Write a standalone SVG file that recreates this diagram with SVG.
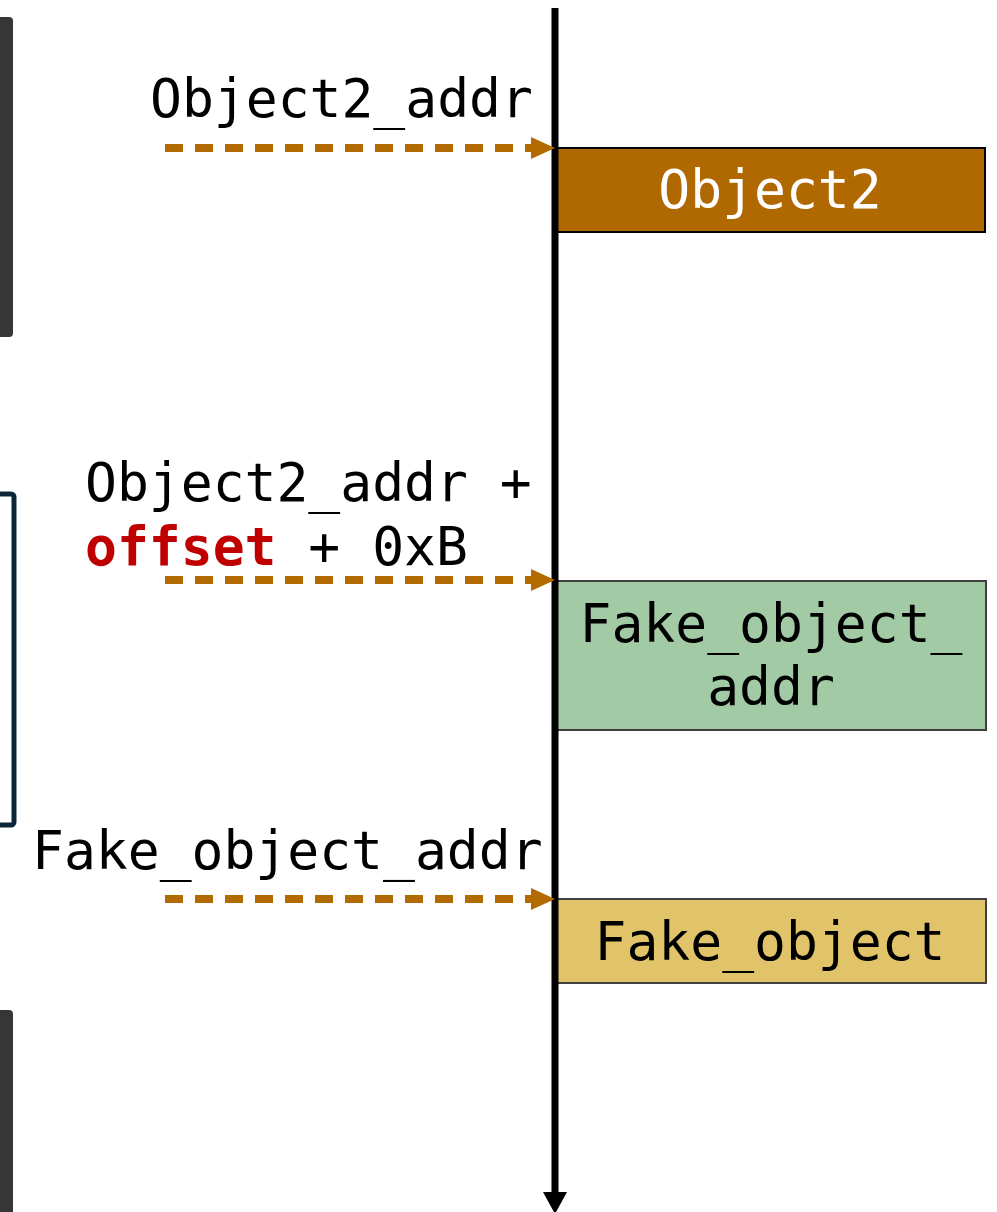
<svg xmlns="http://www.w3.org/2000/svg" width="997" height="1212" viewBox="0 0 997 1212">
<style>
text{font-family:"DejaVu Sans Mono","Liberation Mono",monospace;font-size:53px;fill:#000}
.ptr{stroke:#b36a00;stroke-width:8;stroke-dasharray:18 12;fill:none}
.head{fill:#b36a00}
.box{stroke-width:2}
</style>
<rect width="997" height="1212" fill="#fff"/>
<g id="left-shapes">
<rect x="-20" y="17" width="33" height="320" rx="4" fill="#363636"/>
<rect x="-50" y="494" width="64" height="331" rx="3" fill="none" stroke="#0a2639" stroke-width="5"/>
<rect x="-20" y="1010" width="33" height="230" rx="4" fill="#363636"/>
</g>
<g id="node-object2">
<rect class="box" x="555" y="148" width="430" height="84" fill="#b06800" stroke="#000"/>
<text x="770" y="208" text-anchor="middle" style="fill:#fff">Object2</text>
</g>
<g id="node-fake-object-addr">
<rect class="box" x="555" y="581" width="431" height="149" fill="#a2cba5" stroke="#404040"/>
<text x="771" y="642" text-anchor="middle">Fake_object_</text>
<text x="771" y="705" text-anchor="middle">addr</text>
</g>
<g id="node-fake-object">
<rect class="box" x="555" y="899" width="431" height="84" fill="#e1c46a" stroke="#404040"/>
<text x="770" y="960" text-anchor="middle">Fake_object</text>
</g>
<g id="labels">
<text x="150" y="117">Object2_addr</text>
<text x="85" y="501">Object2_addr +</text>
<text x="85" y="565"><tspan style="fill:#c00000;font-weight:bold">offset</tspan> + 0xB</text>
<text x="32" y="869">Fake_object_addr</text>
</g>
<g id="connectors">
<line x1="555" y1="8" x2="555" y2="1194" stroke="#000" stroke-width="7"/>
<path d="M543,1192L567,1192L555,1214Z" fill="#000"/>
<line class="ptr" x1="165" y1="148" x2="533" y2="148"/>
<path class="head" d="M531,137L555,148L531,159Z"/>
<line class="ptr" x1="165" y1="580" x2="533" y2="580"/>
<path class="head" d="M531,569L555,580L531,591Z"/>
<line class="ptr" x1="165" y1="899" x2="533" y2="899"/>
<path class="head" d="M531,888L555,899L531,910Z"/>
</g>
</svg>
